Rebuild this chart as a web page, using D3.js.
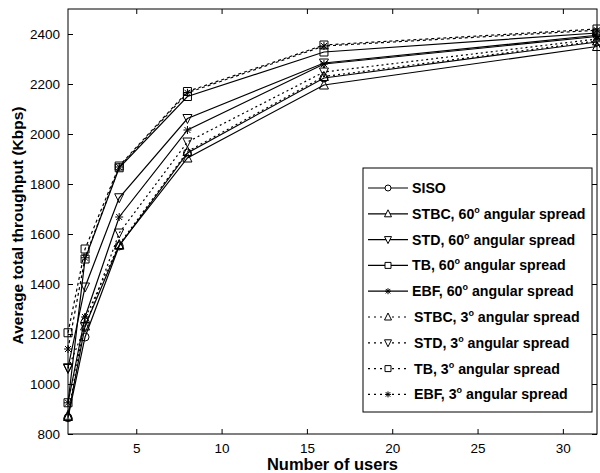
<!DOCTYPE html>
<html>
<head>
<meta charset="utf-8">
<script src="https://cdn.jsdelivr.net/npm/d3@7"></script>
<style>
  body { margin: 0; background: #fff; }
  svg { font-family: "Liberation Sans", Arial, Helvetica, sans-serif; }
</style>
</head>
<body>
<div id="viz-container"></div>
<script>
// Data
const users = [1, 2, 4, 8, 16, 32];
const xTicks = [5, 10, 15, 20, 25, 30];
const yTicks = [800, 1000, 1200, 1400, 1600, 1800, 2000, 2200, 2400];

const siso   = [865, 1188, 1552, 1924, 2224, 2368];
const stbc60 = [870, 1232, 1555, 1904, 2196, 2350];
const std60  = [1065, 1388, 1745, 2062, 2284, 2395];
const tb60   = [925, 1500, 1865, 2150, 2328, 2404];
const ebf60  = [925, 1268, 1668, 2016, 2280, 2390];
const stbc3  = [875, 1262, 1558, 1930, 2230, 2372];
const std3   = [1062, 1228, 1604, 1968, 2248, 2380];
const tb3    = [1205, 1540, 1872, 2170, 2356, 2420];
const ebf3   = [1140, 1505, 1868, 2165, 2352, 2415];

const series = [
  { name: "SISO", deg: "", values: siso, marker: "circle", dash: null },
  { name: "STBC, 60", deg: "o", rest: " angular spread", values: stbc60, marker: "up", dash: null },
  { name: "STD, 60", deg: "o", rest: " angular spread", values: std60, marker: "down", dash: null },
  { name: "TB, 60", deg: "o", rest: " angular spread", values: tb60, marker: "square", dash: null },
  { name: "EBF, 60", deg: "o", rest: " angular spread", values: ebf60, marker: "star", dash: null },
  { name: "STBC, 3", deg: "o", rest: " angular spread", values: stbc3, marker: "up", dash: "2,3" },
  { name: "STD, 3", deg: "o", rest: " angular spread", values: std3, marker: "down", dash: "2,3" },
  { name: "TB, 3", deg: "o", rest: " angular spread", values: tb3, marker: "square", dash: "3,3" },
  { name: "EBF, 3", deg: "o", rest: " angular spread", values: ebf3, marker: "star", dash: "3,3" }
];

const W = 600, H = 473;
const margin = { top: 9, right: 3, bottom: 39, left: 68 };
const width = W - margin.left - margin.right,
      height = H - margin.top - margin.bottom;

const svg = d3.select("#viz-container").append("svg")
  .attr("width", W).attr("height", H);

const chart = svg.append("g")
  .attr("transform", `translate(${margin.left},${margin.top})`);

const x = d3.scaleLinear().domain([1, 32]).range([0, width]);
const y = d3.scaleLinear().domain([800, 2500]).range([height, 0]);

// markers
function markerPath(type, s) {
  s = s || 4;
  if (type === "circle") return d3.symbol(d3.symbolCircle, Math.PI * s * s)();
  if (type === "square") return `M${-s},${-s}H${s}V${s}H${-s}Z`;
  if (type === "up") return `M0,${-s - 1}L${s + 0.5},${s}L${-s - 0.5},${s}Z`;
  if (type === "down") return `M0,${s + 1}L${s + 0.5},${-s}L${-s - 0.5},${-s}Z`;
  // asterisk
  const a = s * 0.75;
  return `M${-s},0H${s}M0,${-s}V${s}M${-a},${-a}L${a},${a}M${-a},${a}L${a},${-a}`;
}

// axes (inward ticks, MATLAB style)
const fmt = d3.format("d");
chart.append("g")
  .attr("transform", `translate(0,${height})`)
  .call(d3.axisBottom(x).tickValues(xTicks).tickSize(-5).tickPadding(9).tickFormat(fmt))
  .call(g => g.select(".domain").remove());
chart.append("g")
  .call(d3.axisTop(x).tickValues(xTicks).tickSize(-5).tickFormat(""))
  .call(g => g.select(".domain").remove());
chart.append("g")
  .call(d3.axisLeft(y).tickValues(yTicks).tickSize(-5).tickPadding(8).tickFormat(fmt))
  .call(g => g.select(".domain").remove());
chart.append("g")
  .attr("transform", `translate(${width},0)`)
  .call(d3.axisRight(y).tickValues(yTicks).tickSize(-5).tickFormat(""))
  .call(g => g.select(".domain").remove());

chart.selectAll(".tick text")
  .attr("font-size", "13.5px")
  .attr("fill", "#000")
  .attr("font-family", "Liberation Sans, Arial, sans-serif");
chart.selectAll(".tick line").attr("stroke", "#000");

chart.append("rect")
  .attr("width", width).attr("height", height)
  .attr("fill", "none").attr("stroke", "#000").attr("stroke-width", 1);

const line = d3.line()
  .x((d, i) => x(users[i]))
  .y(d => y(d));

const sg = chart.selectAll(".series").data(series).join("g").attr("class", "series");

sg.append("path")
  .attr("d", d => line(d.values))
  .attr("fill", "none")
  .attr("stroke", "#000")
  .attr("stroke-width", 1.2)
  .attr("stroke-dasharray", d => d.dash);

sg.selectAll(".mk")
  .data(d => d.values.map((v, i) => ({ v, i, marker: d.marker })))
  .join("path")
  .attr("class", "mk")
  .attr("transform", d => `translate(${x(users[d.i])},${y(d.v)})`)
  .attr("d", d => markerPath(d.marker))
  .attr("fill", "none")
  .attr("stroke", "#000")
  .attr("stroke-width", 1);

// legend
const lg = svg.append("g").attr("transform", "translate(363,168)");
lg.append("rect")
  .attr("width", 229).attr("height", 244)
  .attr("fill", "#fff").attr("stroke", "#000").attr("stroke-width", 1);

const item = lg.selectAll(".item").data(series).join("g")
  .attr("class", "item")
  .attr("transform", (d, i) => `translate(0,${20 + i * 25.8})`);

item.append("line")
  .attr("x1", 5).attr("x2", 45)
  .attr("stroke", "#000").attr("stroke-width", 1.2)
  .attr("stroke-dasharray", d => d.dash ? "2,4" : null);
item.append("path")
  .attr("transform", "translate(25,0)")
  .attr("d", d => markerPath(d.marker, 3))
  .attr("fill", "#fff").attr("stroke", "#000");

const lt = item.append("text")
  .attr("x", d => d.dash ? 51 : 49)
  .attr("y", 5)
  .attr("font-size", "14.2px")
  .attr("font-weight", "bold");
lt.append("tspan").text(d => d.name);
lt.append("tspan").attr("font-size", "9px").attr("dy", -6).text(d => d.deg);
lt.append("tspan").attr("dy", d => d.deg ? 6 : 0).text(d => d.rest || "");

// axis titles
svg.append("text")
  .attr("x", margin.left + width / 2)
  .attr("y", 470)
  .attr("text-anchor", "middle")
  .attr("font-size", "16.5px")
  .attr("font-weight", "bold")
  .text("Number of users");

svg.append("text")
  .attr("transform", `translate(23,${margin.top + height / 2 + 4}) rotate(-90)`)
  .attr("text-anchor", "middle")
  .attr("font-size", "15.5px")
  .attr("font-weight", "bold")
  .text("Average total throughput (Kbps)");
</script>
</body>
</html>
